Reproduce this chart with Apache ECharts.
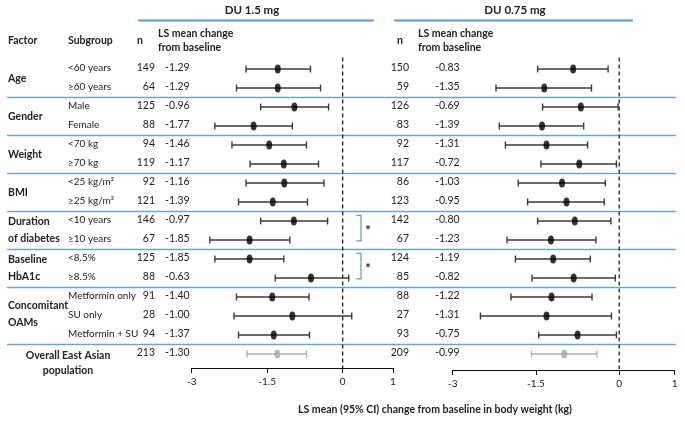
<!DOCTYPE html>
<html><head><meta charset="utf-8">
<script src="https://cdn.jsdelivr.net/npm/echarts@6/dist/echarts.min.js"></script>
<style>html,body{margin:0;padding:0;background:#fff}#c{width:685px;height:422px}</style>
</head><body><div id="c"></div>
<script>
// ---- data ----
const subgroups = ['<60 years','≥60 years','Male','Female','<70 kg','≥70 kg','<25 kg/m²','≥25 kg/m²','<10 years','≥10 years','<8.5%','≥8.5%','Metformin only','SU only','Metformin + SU',''];
const factorLabels = ['Age','Gender','Weight','BMI','Duration\nof diabetes','Baseline\nHbA1c','Concomitant\nOAMs','Overall East Asian\npopulation'];
const factorRows = [0.5, 2.5, 4.5, 6.5, 8.5, 10.5, 12.9, 15.5];
const separatorRows = [1.5, 3.5, 5.5, 7.5, 9.5, 11.5, 14.5];
const sigPairs = [[8, 9], [10, 11]];

const n15 = [149,64,125,88,94,119,92,121,146,67,125,88,91,28,94,213];
const mean15 = [-1.29,-1.29,-0.96,-1.77,-1.46,-1.17,-1.16,-1.39,-0.97,-1.85,-1.85,-0.63,-1.40,-1.00,-1.37,-1.30];
const lo15 = [-1.92,-2.11,-1.63,-2.54,-2.20,-1.84,-1.92,-2.07,-1.63,-2.64,-2.54,-1.34,-2.11,-2.16,-2.07,-1.90];
const hi15 = [-0.64,-0.44,-0.28,-1.00,-0.72,-0.48,-0.37,-0.70,-0.30,-1.05,-1.17,0.12,-0.67,0.18,-0.66,-0.72];

const n075 = [150,59,126,83,92,117,86,123,142,67,124,85,88,27,93,209];
const mean075 = [-0.83,-1.35,-0.69,-1.39,-1.31,-0.72,-1.03,-0.95,-0.80,-1.23,-1.19,-0.82,-1.22,-1.31,-0.75,-0.99];
const lo075 = [-1.47,-2.22,-1.38,-2.16,-2.05,-1.41,-1.82,-1.65,-1.47,-2.02,-1.87,-1.57,-1.95,-2.50,-1.45,-1.58];
const hi075 = [-0.20,-0.50,-0.02,-0.64,-0.57,-0.05,-0.25,-0.27,-0.15,-0.42,-0.52,-0.07,-0.49,-0.14,-0.05,-0.40];

const xTicks = [-3, -1.5, 0, 1];
const zeroLine = [[0, -0.6], [0, 15.8]];

// ---- styling ----
const FONT = 'Lato';
const TXT = '#222';
const BLUE = '#6fa3d8';
const overallIdx = subgroups.length - 1;

const chart = echarts.init(document.getElementById('c'), null, {renderer: 'canvas'});

function xAxisDef(gi) {
  return {
    type: 'value', gridIndex: gi, min: -3, max: 1,
    axisLine: {show: true, onZero: false, lineStyle: {color: '#111', width: 1}},
    axisTick: {show: true, customValues: xTicks, length: 5, lineStyle: {color: '#111'}},
    axisLabel: {customValues: xTicks, color: TXT, fontFamily: FONT, fontSize: 10, margin: 9,
      formatter: v => String(v)},
    splitLine: {show: false}
  };
}
function yAxisDef(gi, max) {
  return {type: 'value', gridIndex: gi, inverse: true, min: -1, max: max, show: false};
}

function errSeries(gi, lo, hi, mean) {
  return {
    type: 'custom', xAxisIndex: gi, yAxisIndex: gi, silent: true, clip: false,
    data: mean.map((m, i) => [lo[i], hi[i], i]),
    renderItem: (params, api) => {
      const a = api.coord([api.value(0), api.value(2)]);
      const b = api.coord([api.value(1), api.value(2)]);
      const col = api.value(2) === overallIdx ? '#b0b0b0' : '#3a3a3a';
      const st = {stroke: col, lineWidth: 1.4};
      return {type: 'group', children: [
        {type: 'line', shape: {x1: a[0], y1: a[1], x2: b[0], y2: b[1]}, style: st},
        {type: 'line', shape: {x1: a[0], y1: a[1] - 3.5, x2: a[0], y2: a[1] + 3.5}, style: st},
        {type: 'line', shape: {x1: b[0], y1: b[1] - 3.5, x2: b[0], y2: b[1] + 3.5}, style: st}
      ]};
    }
  };
}
function dotSeries(gi, mean) {
  return {
    type: 'scatter', xAxisIndex: gi, yAxisIndex: gi, silent: true, symbol: 'circle',
    symbolSize: [6, 9],
    data: mean.map((m, i) => ({value: [m, i], itemStyle: {color: i === overallIdx ? '#a8a8a8' : '#000'}})),
    z: 5
  };
}
function zeroSeries(gi) {
  return {
    type: 'line', xAxisIndex: gi, yAxisIndex: gi, data: zeroLine, symbol: 'none', silent: true,
    lineStyle: {color: '#222', width: 1.3, type: [4, 3]}, z: 1
  };
}
function tableSeries(gi, nArr, meanArr, xN, xLS, withSub) {
  return {
    type: 'custom', xAxisIndex: gi, yAxisIndex: gi, silent: true, clip: false,
    data: nArr.map((n, i) => [0, i]),
    renderItem: (params, api) => {
      const i = api.value(1);
      const y = api.coord([0, i])[1];
      const base = {fill: TXT, fontFamily: FONT, fontSize: 10.5, verticalAlign: 'middle'};
      const ch = [
        {type: 'text', style: Object.assign({}, base, {text: String(nArr[i]), x: xN, y: y - 1, align: 'right'})},
        {type: 'text', style: Object.assign({}, base, {text: meanArr[i].toFixed(2), x: xLS, y: y - 1, align: 'left'})}
      ];
      if (withSub && subgroups[i]) {
        ch.push({type: 'text', style: Object.assign({}, base, {text: subgroups[i], x: 68, y: y - 1, align: 'left', fontSize: 10})});
      }
      return {type: 'group', children: ch};
    }
  };
}

const option = {
  animation: false,
  grid: [
    {left: 191.7, top: 50, width: 201.3, height: 318},
    {left: 452.7, top: 50, width: 222, height: 320}
  ],
  xAxis: [xAxisDef(0), xAxisDef(1)],
  yAxis: [yAxisDef(0, 15.737), yAxisDef(1, 15.842)],
  series: [
    // separators
    {
      type: 'custom', xAxisIndex: 0, yAxisIndex: 0, silent: true, clip: false, z: 0,
      data: separatorRows.map(r => [0, r]),
      renderItem: (params, api) => {
        const y = api.coord([0, api.value(1)])[1];
        return {type: 'line', shape: {x1: 7, y1: y, x2: 676, y2: y}, style: {stroke: BLUE, lineWidth: 1.6}};
      }
    },
    // factor labels
    {
      type: 'custom', xAxisIndex: 0, yAxisIndex: 0, silent: true, clip: false,
      data: factorRows.map((r, i) => [i, r]),
      renderItem: (params, api) => {
        const i = api.value(0);
        const y = api.coord([0, api.value(1)])[1];
        const last = i === factorLabels.length - 1;
        return {type: 'text', style: {
          text: factorLabels[i], x: last ? 68 : 8, y: y,
          align: last ? 'center' : 'left', verticalAlign: 'middle',
          fill: TXT, fontFamily: FONT, fontSize: 10.5, fontWeight: 'bold',
          lineHeight: last ? 15 : 17
        }};
      }
    },
    // significance brackets
    {
      type: 'custom', xAxisIndex: 0, yAxisIndex: 0, silent: true, clip: false,
      data: sigPairs,
      renderItem: (params, api) => {
        const y1 = api.coord([0, api.value(0) - 0.3])[1];
        const y2 = api.coord([0, api.value(1) + 0.05])[1];
        const st = {stroke: '#5b9bd5', lineWidth: 1.2, fill: null};
        return {type: 'group', children: [
          {type: 'polyline', shape: {points: [[356.5, y1], [361, y1], [361, y2], [356.5, y2]]}, style: st},
          {type: 'text', style: {text: '*', x: 368, y: (y1 + y2) / 2 + 3, align: 'center', verticalAlign: 'middle',
            fill: TXT, fontFamily: FONT, fontSize: 13, fontWeight: 'bold'}}
        ]};
      }
    },
    tableSeries(0, n15, mean15, 155, 165, true),
    tableSeries(1, n075, mean075, 409, 435, false),
    zeroSeries(0), zeroSeries(1),
    errSeries(0, lo15, hi15, mean15), errSeries(1, lo075, hi075, mean075),
    dotSeries(0, mean15), dotSeries(1, mean075)
  ],
  graphic: [
    {type: 'text', left: 8, top: 35, style: {text: 'Factor', fill: TXT, font: 'bold 10.5px Lato'}},
    {type: 'text', left: 68, top: 35, style: {text: 'Subgroup', fill: TXT, font: 'bold 10.5px Lato'}},
    {type: 'text', left: 137, top: 35, style: {text: 'n', fill: TXT, font: 'bold 10.5px Lato'}},
    {type: 'text', left: 158, top: 27, style: {text: 'LS mean change\nfrom baseline', fill: TXT, font: 'bold 10.5px Lato', lineHeight: 14}},
    {type: 'text', left: 397, top: 35, style: {text: 'n', fill: TXT, font: 'bold 10.5px Lato'}},
    {type: 'text', left: 418, top: 27, style: {text: 'LS mean change\nfrom baseline', fill: TXT, font: 'bold 10.5px Lato', lineHeight: 14}},
    {type: 'text', x: 252, y: 10, style: {text: 'DU 1.5 mg', fill: TXT, font: 'bold 11.5px Lato', align: 'center', verticalAlign: 'middle'}},
    {type: 'text', x: 515, y: 10, style: {text: 'DU 0.75 mg', fill: TXT, font: 'bold 11.5px Lato', align: 'center', verticalAlign: 'middle'}},
    {type: 'line', shape: {x1: 138, y1: 20.5, x2: 374, y2: 20.5}, style: {stroke: '#5b9bd5', lineWidth: 2}},
    {type: 'line', shape: {x1: 394, y1: 20.5, x2: 633, y2: 20.5}, style: {stroke: '#5b9bd5', lineWidth: 2}},
    {type: 'text', x: 435, y: 410, style: {text: 'LS mean (95% CI) change from baseline in body weight (kg)', fill: TXT, font: 'bold 10.5px Lato', align: 'center', verticalAlign: 'middle'}}
  ]
};
chart.setOption(option);
</script></body></html>
